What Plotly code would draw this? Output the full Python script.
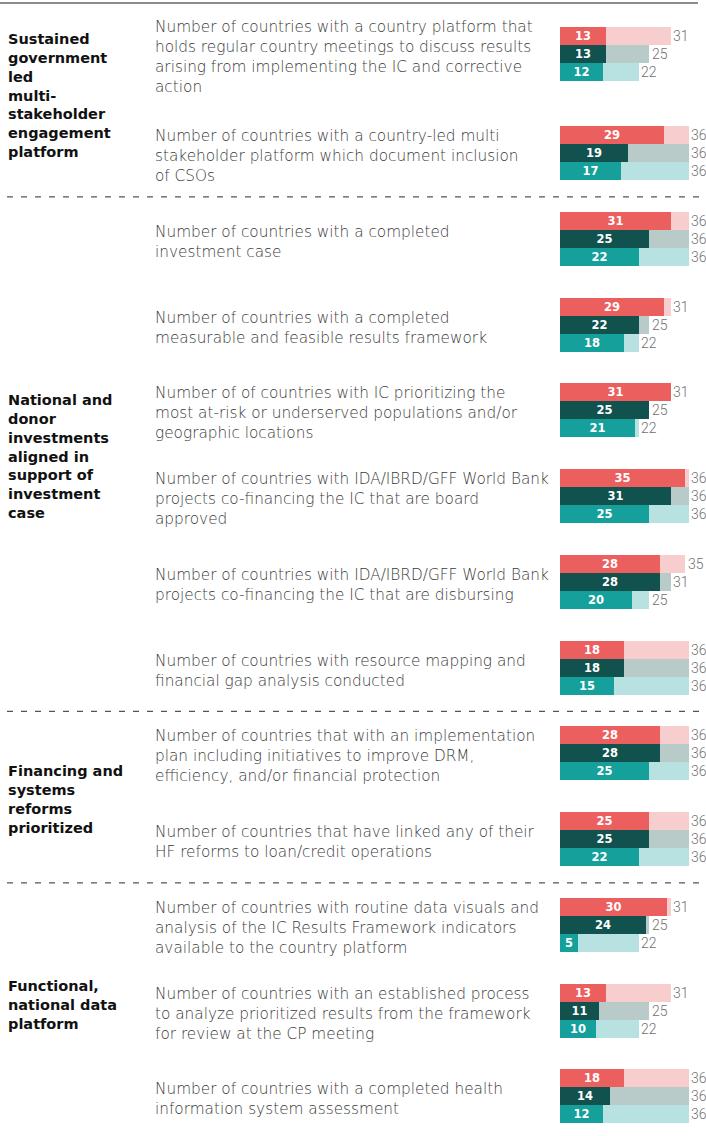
import plotly.graph_objects as go

W, H = 706, 1136

indicators = [
    "Number of countries with a country platform that<br>holds regular country meetings to discuss results<br>arising from implementing the IC and corrective<br>action",
    "Number of countries with a country-led multi<br>stakeholder platform which document inclusion<br>of CSOs",
    "Number of countries with a completed<br>investment case",
    "Number of countries with a completed<br>measurable and feasible results framework",
    "Number of of countries with IC prioritizing the<br>most at-risk or underserved populations and/or<br>geographic locations",
    "Number of countries with IDA/IBRD/GFF World Bank<br>projects co-financing the IC that are board<br>approved",
    "Number of countries with IDA/IBRD/GFF World Bank<br>projects co-financing the IC that are disbursing",
    "Number of countries with resource mapping and<br>financial gap analysis conducted",
    "Number of countries that with an implementation<br>plan including initiatives to improve DRM,<br>efficiency, and/or financial protection",
    "Number of countries that have linked any of their<br>HF reforms to loan/credit operations",
    "Number of countries with routine data visuals and<br>analysis of the IC Results Framework indicators<br>available to the country platform",
    "Number of countries with an established process<br>to analyze prioritized results from the framework<br>for review at the CP meeting",
    "Number of countries with a completed health<br>information system assessment",
]

sections = [
    "Sustained<br>government<br>led<br>multi-<br>stakeholder<br>engagement<br>platform",
    "National and<br>donor<br>investments<br>aligned in<br>support of<br>investment<br>case",
    "Financing and<br>systems<br>reforms<br>prioritized",
    "Functional,<br>national data<br>platform",
]
section_groups = [(0, 1), (2, 7), (8, 9), (10, 12)]

red_vals = [13, 29, 31, 29, 31, 35, 28, 18, 28, 25, 30, 13, 18]
red_tot = [31, 36, 36, 31, 31, 36, 35, 36, 36, 36, 31, 31, 36]
dark_vals = [13, 19, 25, 22, 25, 31, 28, 18, 28, 25, 24, 11, 14]
dark_tot = [25, 36, 36, 25, 25, 36, 31, 36, 36, 36, 25, 25, 36]
teal_vals = [12, 17, 22, 18, 21, 25, 20, 15, 25, 22, 5, 10, 12]
teal_tot = [22, 36, 36, 22, 22, 36, 25, 36, 36, 36, 22, 22, 36]

FONT = "DejaVu Sans"

# ---- layout geometry (pixel-based y axis) ----
ROW = 18
def center(i):
    return 54 if i == 0 else 153 + (i - 1) * 85.75

series = [
    (red_vals, red_tot, "#EC5F5F", "#F8CDCE", -ROW),
    (dark_vals, dark_tot, "#11524F", "#B9CBC8", 0),
    (teal_vals, teal_tot, "#16A09B", "#B7E2E1", ROW),
]

fig = go.Figure()
annotations = []
for vals, tots, col, light, off in series:
    ys = [center(i) + off for i in range(len(vals))]
    fig.add_trace(go.Bar(
        x=tots, y=ys, orientation="h", width=ROW, marker=dict(color=light, line=dict(width=0)),
        hoverinfo="skip", showlegend=False,
    ))
    fig.add_trace(go.Bar(
        x=vals, y=ys, orientation="h", width=ROW, marker=dict(color=col, line=dict(width=0)),
        text=[str(v) for v in vals], textposition="inside", insidetextanchor="middle", textangle=0,
        textfont=dict(family=FONT, size=11.5, color="white", weight="bold"),
        constraintext="none", cliponaxis=False, hoverinfo="skip", showlegend=False,
    ))
    for t, y in zip(tots, ys):
        annotations.append(dict(
            x=t, xref="x", y=y, yref="y", text=str(t), showarrow=False,
            xanchor="left", yanchor="middle", xshift=1.5, borderpad=0,
            font=dict(family="Roboto", size=14, color="#707070", weight=300),
        ))

for i, txt in enumerate(indicators):
    annotations.append(dict(
        x=153 / W, xref="paper", y=center(i) + 3, yref="y", text=txt, showarrow=False,
        xanchor="left", yanchor="middle", align="left",
        font=dict(family=FONT, size=15.3, color="#3a3a3a", weight=300),
    ))

header_offsets = [-8, 3, 3, -6]
for (a, b), txt, off in zip(section_groups, sections, header_offsets):
    annotations.append(dict(
        x=6 / W, xref="paper", y=(center(a) + center(b)) / 2 + off, yref="y", text=txt,
        showarrow=False, xanchor="left", yanchor="middle", align="left",
        font=dict(family=FONT, size=14.5, color="#111111", weight="bold"),
    ))

shapes = [dict(type="line", xref="paper", yref="y", x0=0, x1=698 / W, y0=3, y1=3,
               line=dict(color="#666666", width=1.5))]
for i in [1, 7, 9]:
    y = (center(i) + center(i + 1)) / 2 + 1
    shapes.append(dict(type="line", xref="paper", yref="y", x0=7 / W, x1=700 / W, y0=y, y1=y,
                       line=dict(color="#555555", width=1.2, dash="6px,8px")))

fig.update_layout(
    width=W, height=H, margin=dict(l=0, r=0, t=0, b=0),
    paper_bgcolor="white", plot_bgcolor="white",
    barmode="overlay", bargap=0,
    xaxis=dict(domain=[560 / W, 1], range=[0, (W - 560) / 3.575], visible=False, fixedrange=True),
    yaxis=dict(domain=[0, 1], range=[H, 0], visible=False, fixedrange=True),
    annotations=annotations, shapes=shapes,
    uniformtext=dict(mode=False),
)

fig.write_html("out.html", config={"displayModeBar": False},
               post_script="document.body.style.margin='0';document.body.style.overflow='hidden';")
